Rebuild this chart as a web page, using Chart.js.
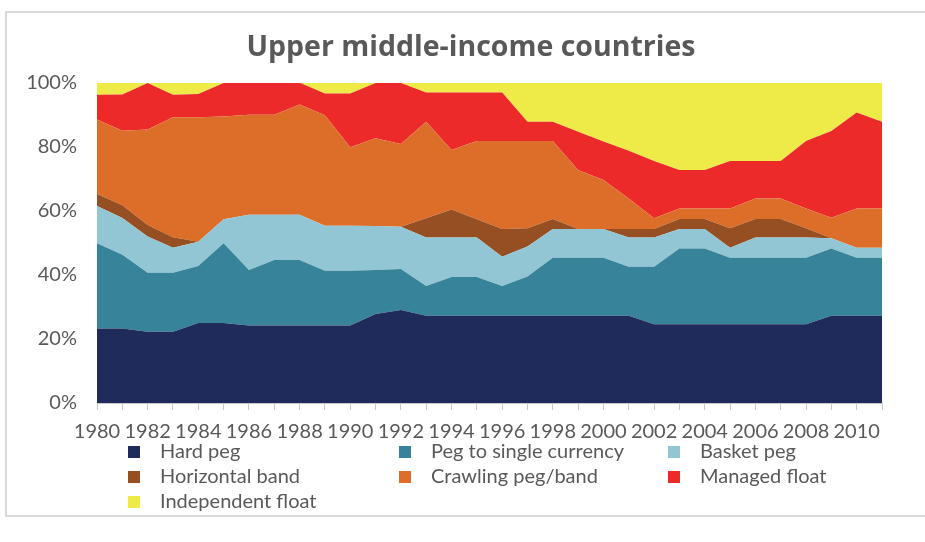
<!DOCTYPE html>
<html>
<head>
<meta charset="utf-8">
<script src="https://cdn.jsdelivr.net/npm/chart.js@4"></script>
<style>
  body { margin: 0; background: #fff; }
  #wrap { position: relative; width: 925px; height: 542px; overflow: hidden; }
  #frame { position: absolute; left: 5px; top: 11px; width: 940px; height: 502px; border: 2px solid #d9d9d9; }
  canvas { position: absolute; left: 0; top: 0; }
</style>
</head>
<body>
<div id="wrap">
  <div id="frame"></div>
  <canvas id="chart" width="925" height="542"></canvas>
</div>
<script>
  const years = ['1980','1981','1982','1983','1984','1985','1986','1987','1988','1989',
    '1990','1991','1992','1993','1994','1995','1996','1997','1998','1999',
    '2000','2001','2002','2003','2004','2005','2006','2007','2008','2009','2010','2011'];

  // shares in % of countries
  const hardPeg = [23.3,23.3,22.3,22.3,25.0,25.0,24.2,24.2,24.2,24.2,
    24.2,27.8,29.1,27.3,27.3,27.3,27.3,27.3,27.3,27.3,
    27.3,27.3,24.6,24.6,24.6,24.6,24.6,24.6,24.6,27.3,27.3,27.3];
  const pegSingle = [26.6,23.0,18.4,18.4,17.8,24.9,17.4,20.5,20.5,17.1,
    17.1,13.8,12.8,9.3,12.1,12.1,9.3,12.2,18.1,18.1,
    18.1,15.3,18.0,23.7,23.7,20.8,20.8,20.8,20.8,21.0,18.1,18.1];
  const basketPeg = [11.7,11.5,11.3,7.8,7.6,7.5,17.2,14.1,14.1,14.1,
    14.1,13.7,13.2,15.1,12.3,12.3,9.1,9.4,9.0,9.0,
    9.0,9.1,9.1,6.1,6.1,3.1,6.3,6.3,6.3,3.2,3.1,3.1];
  const horizBand = [3.7,4.0,3.6,3.3,0,0,0,0,0,0,
    0,0,0,6.0,8.8,5.7,8.7,5.7,3.1,0,
    0,2.7,2.7,3.1,3.1,6.1,5.8,5.8,2.9,0,0,0];
  const crawling = [23.3,23.3,29.9,37.5,38.9,32.1,31.3,31.3,34.5,34.5,
    24.5,27.4,25.8,30.2,18.6,24.5,27.5,27.3,24.4,18.4,
    15.3,9.5,3.3,3.3,3.3,6.2,6.4,6.4,6.2,6.4,12.3,12.3];
  const managed = [7.7,11.3,14.5,7.0,7.3,10.5,10.0,10.0,6.8,6.8,
    16.8,17.3,19.1,9.1,17.9,15.1,15.1,6.0,6.0,12.0,
    12.0,14.9,17.9,12.0,12.0,14.8,11.7,11.7,21.1,27.1,30.0,27.1];
  const independent = [3.8,3.8,0,3.8,3.4,0,0,0,0,3.4,
    3.4,0,0,3.0,3.0,3.0,3.0,12.1,12.1,15.2,
    18.3,21.3,24.4,27.2,27.2,24.4,24.4,24.4,18.1,15.0,9.2,12.1];

  const seriesNames = ['Hard peg','Peg to single currency','Basket peg','Horizontal band',
    'Crawling peg/band','Managed float','Independent float'];
  const seriesData = [hardPeg, pegSingle, basketPeg, horizBand, crawling, managed, independent];
  const colors = ['#1f2b5b','#37849a','#92c6d4','#964f22','#dd6e2a','#ec2a2a','#eeea48'];

  const FONT = 'Lato, "Open Sans", sans-serif';
  const GREY = '#595959';

  const titlePlugin = {
    id: 'titleText',
    afterDraw(chart) {
      const ctx = chart.ctx;
      ctx.save();
      ctx.font = 'bold 28.5px "Open Sans", sans-serif';
      ctx.fillStyle = GREY;
      ctx.textAlign = 'center';
      ctx.textBaseline = 'middle';
      ctx.fillText('Upper middle-income countries', 471, 48);
      ctx.restore();
    }
  };

  // three-column legend under the axis
  const legendPlugin = {
    id: 'gridLegend',
    afterDraw(chart) {
      const ctx = chart.ctx;
      const colX = [128, 399, 668];
      const rowY = [452, 477, 502];
      ctx.save();
      ctx.font = '20px ' + FONT;
      ctx.textBaseline = 'middle';
      chart.data.datasets.forEach((ds, i) => {
        const x = colX[i % 3];
        const y = rowY[Math.floor(i / 3)];
        ctx.fillStyle = ds.backgroundColor;
        ctx.fillRect(x, y - 6, 12, 12);
        ctx.fillStyle = GREY;
        ctx.fillText(ds.label, x + 32, y);
      });
      ctx.restore();
    }
  };

  new Chart(document.getElementById('chart'), {
    type: 'line',
    data: {
      labels: years,
      datasets: seriesData.map((d, i) => ({
        label: seriesNames[i],
        data: d,
        backgroundColor: colors[i],
        borderColor: colors[i],
        borderWidth: 0,
        pointRadius: 0,
        tension: 0,
        fill: i === 0 ? 'origin' : '-1',
      })),
    },
    options: {
      responsive: false,
      animation: false,
      layout: { padding: { top: 83, left: 0, right: 43, bottom: 0 } },
      plugins: { legend: { display: false }, title: { display: false }, tooltip: { enabled: false } },
      scales: {
        x: {
          grid: { display: true, drawOnChartArea: false, drawTicks: true, tickLength: 7, color: '#c8c8c8' },
          border: { display: true, color: '#c8c8c8', width: 1 },
          ticks: {
            autoSkip: false, maxRotation: 0, padding: 10,
            color: GREY, font: { family: FONT, size: 20 },
            callback: function (v) {
              const y = this.getLabelForValue(v);
              return Number(y) % 2 === 0 ? y : '';
            },
          },
          afterFit: (s) => { s.height = 139; },
        },
        y: {
          stacked: true,
          min: 0, max: 100,
          grid: { display: false, drawTicks: false },
          border: { display: false },
          ticks: {
            stepSize: 20, padding: 20,
            color: GREY, font: { family: FONT, size: 20 },
            callback: (v) => v + '%',
          },
          afterFit: (s) => { s.width = 97; },
        },
      },
    },
    plugins: [titlePlugin, legendPlugin],
  });
</script>
</body>
</html>
